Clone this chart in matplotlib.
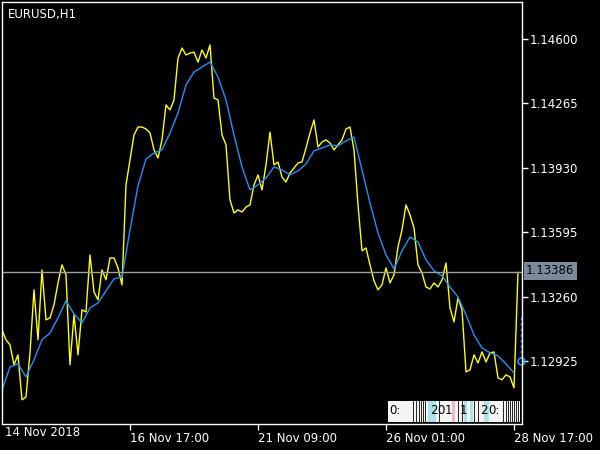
import numpy as np
import matplotlib
matplotlib.use("Agg")
import matplotlib.pyplot as plt
from matplotlib.patches import Rectangle

# EURUSD H1 close prices, sampled every 2 bars (bar 0 = 14 Nov 01:00)
close = [1.13087, 1.13035, 1.13009, 1.12905, 1.12957, 1.12723, 1.12738, 1.12967, 1.13295, 1.13035,
         1.13399, 1.13139, 1.13149, 1.13217, 1.13331, 1.13425, 1.13373, 1.12905, 1.13165, 1.12957,
         1.13191, 1.13180, 1.13477, 1.13284, 1.13243, 1.13399, 1.13347, 1.13461, 1.13461, 1.13409,
         1.13321, 1.13841, 1.13971, 1.14101, 1.14142, 1.14142, 1.14132, 1.14111, 1.14023, 1.13981,
         1.14075, 1.14257, 1.14231, 1.14283, 1.14501, 1.14553, 1.14517, 1.14527, 1.14532, 1.14480,
         1.14543, 1.14501, 1.14569, 1.14293, 1.14283, 1.14101, 1.14049, 1.13763, 1.13695, 1.13711,
         1.13700, 1.13726, 1.13737, 1.13841, 1.13893, 1.13815, 1.13945, 1.14116, 1.13945, 1.13960,
         1.13882, 1.13856, 1.13903, 1.13929, 1.13955, 1.13960, 1.14033, 1.14111, 1.14179, 1.14038,
         1.14064, 1.14075, 1.14059, 1.14023, 1.14049, 1.14075, 1.14132, 1.14142, 1.14023, 1.13737,
         1.13498, 1.13513, 1.13425, 1.13342, 1.13295, 1.13321, 1.13409, 1.13331, 1.13373, 1.13518,
         1.13607, 1.13737, 1.13685, 1.13617, 1.13425, 1.13383, 1.13310, 1.13300, 1.13331, 1.13310,
         1.13347, 1.13435, 1.13201, 1.13128, 1.13253, 1.13191, 1.12868, 1.12879, 1.12957, 1.12915,
         1.12972, 1.12920, 1.12967, 1.12972, 1.12837, 1.12827, 1.12853, 1.12842, 1.12785, 1.13386]

# moving average, sampled every 4 bars
ma = [1.12775, 1.12894, 1.12910, 1.12842, 1.12931, 1.13035, 1.13071, 1.13149, 1.13238, 1.13170,
      1.13123, 1.13201, 1.13227, 1.13290, 1.13352, 1.13362, 1.13607, 1.13836, 1.13976, 1.14007,
      1.14023, 1.14111, 1.14215, 1.14361, 1.14428, 1.14454, 1.14480, 1.14402, 1.14283, 1.14101,
      1.13934, 1.13815, 1.13841, 1.13877, 1.13934, 1.13919, 1.13893, 1.13914, 1.13950, 1.14018,
      1.14033, 1.14049, 1.14044, 1.14070, 1.14090, 1.13919, 1.13747, 1.13591, 1.13477, 1.13404,
      1.13498, 1.13570, 1.13544, 1.13451, 1.13394, 1.13368, 1.13310, 1.13258, 1.13165, 1.13061,
      1.12993, 1.12967, 1.12952, 1.12910, 1.12863]

price_ticks = [1.12925, 1.13260, 1.13595, 1.13930, 1.14265, 1.14600]
time_ticks = [64, 128, 192, 256]
time_labels = ["16 Nov 17:00", "21 Nov 09:00", "26 Nov 01:00", "28 Nov 17:00"]
last_price = 1.13386

bars = np.arange(0, 2 * len(close), 2)
ma_bars = bars[:-1:2]

fig = plt.figure(figsize=(6, 4.5), dpi=100, facecolor="black")
ax = fig.add_axes([2 / 600, 26.5 / 450, 519.5 / 600, 421.5 / 450], facecolor="black")

ax.plot(bars, close, color="#ffff00", lw=1.0)
ax.plot(ma_bars, ma, color="#1e90ff", lw=1.0)
ax.axhline(last_price, color="#a0a0a0", lw=1.0)

ax.set_xlim(0, 259.75)
ax.set_ylim(1.125998, 1.147925)

for s in ax.spines.values():
    s.set_color("white")
    s.set_linewidth(1.0)

ax.yaxis.tick_right()
ax.set_yticks(price_ticks)
ax.set_yticklabels(["%.5f" % p for p in price_ticks])
ax.set_xticks(time_ticks)
ax.set_xticklabels(time_labels, ha="left")
ax.tick_params(colors="white", labelsize=8.5, length=4, width=1, pad=2)
ax.text(1.5, -0.006, "14 Nov 2018", transform=ax.get_xaxis_transform(), color="white",
        fontsize=8.5, ha="left", va="top")

ax.text(0.012, 0.985, "EURUSD,H1", transform=ax.transAxes, color="white", fontsize=8.5,
        ha="left", va="top")

# current price box
fig.text(526 / 600, (450 - 271) / 450, "%.5f" % last_price, color="black", fontsize=8.5,
         ha="left", va="center",
         bbox=dict(boxstyle="square,pad=0.2", facecolor="#7b8a9a", edgecolor="none"))

# MA end marker on the price scale
ax.plot([259.5, 259.5], [1.13154, 1.12925], color="#1e90ff", lw=1, ls=(0, (2, 2)), clip_on=False)
ax.plot([259.5], [1.12925], marker="o", ms=5, mfc="none", mec="#1e90ff", mew=1.2, clip_on=False)

# overlapping object labels near the bottom right
trans = fig.transFigure
def px(x, y):
    return x / 600, (450 - y) / 450

ax.add_patch(Rectangle(px(388, 422), 132 / 600, 21 / 450, transform=trans, facecolor="#f4f4f4",
                       edgecolor="none", clip_on=False))
for x0, w, c in [(428, 8, "#a8e4ea"), (452, 3, "#f4b8c0"), (464, 3, "#a8e4ea"), (470, 3, "#a8e4ea"),
                 (484, 5, "#a8e4ea")]:
    ax.add_patch(Rectangle(px(x0, 422), w / 600, 21 / 450, transform=trans, facecolor=c,
                           edgecolor="none", clip_on=False))
for xl in [413, 416, 419, 421, 423, 425, 439, 458, 462, 474, 478, 503, 506, 508, 510, 512, 514, 516, 518]:
    fig.add_artist(plt.Line2D([xl / 600, xl / 600], [(450 - 422) / 450, (450 - 401) / 450],
                              color="black", lw=0.6, transform=trans))
for x0, t in [(389, "0:"), (430, "2"), (437, "0"), (445, "1"), (460, "1"), (480, "2"), (488, "0:")]:
    fig.text(x0 / 600, (450 - 411) / 450, t, color="black", fontsize=8.5, ha="left", va="center")

fig.savefig("out.png", dpi=100, facecolor="black")
